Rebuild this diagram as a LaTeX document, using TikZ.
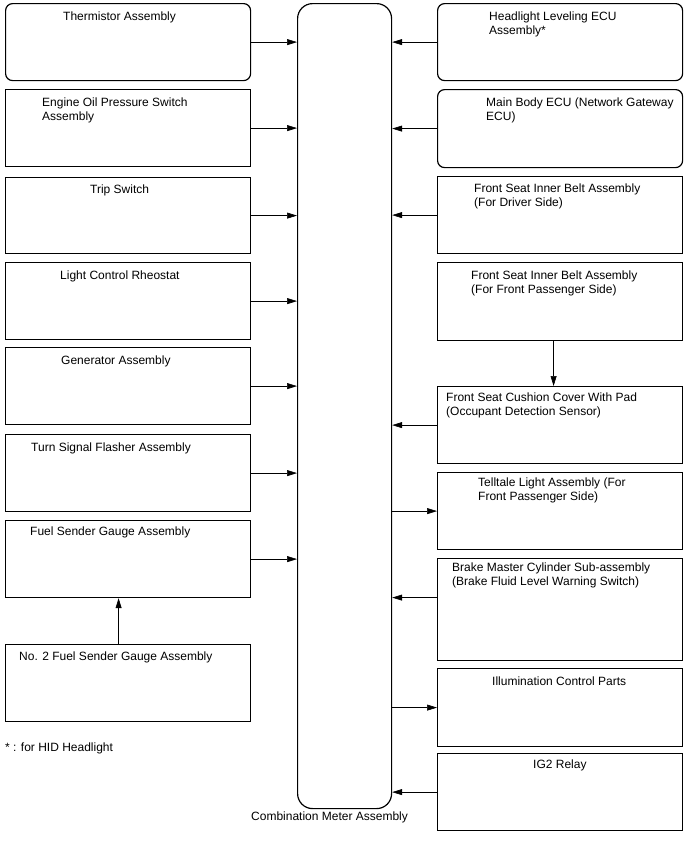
\documentclass[tikz,border=0pt]{standalone}
\usepackage{fontspec}
\setmainfont{Liberation Sans}
\usetikzlibrary{arrows.meta}

\begin{document}
\begin{tikzpicture}[x=1pt,y=-1pt,
    box/.style={draw,line width=1.2pt,anchor=north west,inner sep=0pt,minimum width=245pt,minimum height=77pt},
    lbl/.style={anchor=north west,inner sep=0pt,align=left,font=\fontsize{12}{14}\selectfont},
    conn/.style={line width=0.6pt,-{Triangle[length=10pt,width=6pt]}}]
    \useasboundingbox (0,0) rectangle (688,852);

    \node[box,rounded corners=15pt,minimum width=94pt,minimum height=805pt] (meter) at (297,3) {};
    \node[lbl] (meter-t) at (251,812) {Combination Meter Assembly};

    % left column
    \node[box,rounded corners=7pt] (therm) at (5,3) {};
    \node[box] (oilsw) at (5,89) {};
    \node[box,minimum height=76pt] (tripsw) at (5,177) {};
    \node[box] (rheo) at (5,262) {};
    \node[box] (gen) at (5,347) {};
    \node[box] (flasher) at (5,434) {};
    \node[box] (fuelsg) at (5,520) {};
    \node[box] (fuelsg2) at (5,644) {};

    \node[lbl] (therm-t) at (63,12) {Thermistor Assembly};
    \node[lbl] (oilsw-t) at (42,98) {Engine Oil Pressure Switch\\Assembly};
    \node[lbl] (tripsw-t) at (90,185) {Trip Switch};
    \node[lbl] (rheo-t) at (60,271) {Light Control Rheostat};
    \node[lbl] (gen-t) at (61,356) {Generator Assembly};
    \node[lbl] (flasher-t) at (31,443) {Turn Signal Flasher Assembly};
    \node[lbl] (fuelsg-t) at (30,527) {Fuel Sender Gauge Assembly};
    \node[lbl] (fuelsg2-t) at (19,652) {No. 2 Fuel Sender Gauge Assembly};
    \node[lbl] (note) at (5,743) {* : for HID Headlight};

    % right column
    \node[box,rounded corners=7pt] (hlecu) at (437,3) {};
    \node[box,rounded corners=7pt,minimum height=78pt] (mainecu) at (437,89) {};
    \node[box] (beltdr) at (437,176) {};
    \node[box,minimum height=78pt] (beltps) at (437,262) {};
    \node[box] (cushion) at (437,386) {};
    \node[box] (telltale) at (437,472) {};
    \node[box,minimum height=102pt] (brake) at (437,558) {};
    \node[box,minimum height=78pt] (illum) at (437,668) {};
    \node[box] (igrelay) at (437,753) {};

    \node[lbl] (hlecu-t) at (489,12) {Headlight Leveling ECU\\Assembly*};
    \node[lbl] (mainecu-t) at (486,98) {Main Body ECU (Network Gateway\\ECU)};
    \node[lbl] (beltdr-t) at (474,184) {Front Seat Inner Belt Assembly\\(For Driver Side)};
    \node[lbl] (beltps-t) at (471,271) {Front Seat Inner Belt Assembly\\(For Front Passenger Side)};
    \node[lbl] (cushion-t) at (446,393) {Front Seat Cushion Cover With Pad\\(Occupant Detection Sensor)};
    \node[lbl] (telltale-t) at (478,478) {Telltale Light Assembly (For\\Front Passenger Side)};
    \node[lbl] (brake-t) at (452,563) {Brake Master Cylinder Sub-assembly\\(Brake Fluid Level Warning Switch)};
    \node[lbl] (illum-t) at (492,677) {Illumination Control Parts};
    \node[lbl] (igrelay-t) at (533,760) {IG2 Relay};

    % connections
    \foreach \n in {therm,oilsw,tripsw,rheo,gen,flasher,fuelsg} {
        \draw[conn] (\n.east) -- (\n.east -| meter.west);
    }
    \foreach \n in {hlecu,mainecu,beltdr,cushion,igrelay} {
        \draw[conn] (\n.west) -- (\n.west -| meter.east);
    }
    \foreach \n in {telltale,illum} {
        \draw[conn] (\n.west -| meter.east) -- (\n.west);
    }

    \coordinate (brake-out) at ([yshift=12pt]brake.west);
    \draw[conn] (brake-out) -- (brake-out -| meter.east);

    \coordinate (beltps-out) at ([xshift=-6.5pt]beltps.south);
    \draw[conn] (beltps-out) -- (beltps-out |- cushion.north);

    \coordinate (fuelsg2-out) at ([xshift=-9.5pt]fuelsg2.north);
    \draw[conn] (fuelsg2-out) -- (fuelsg2-out |- fuelsg.south);
\end{tikzpicture}
\end{document}
